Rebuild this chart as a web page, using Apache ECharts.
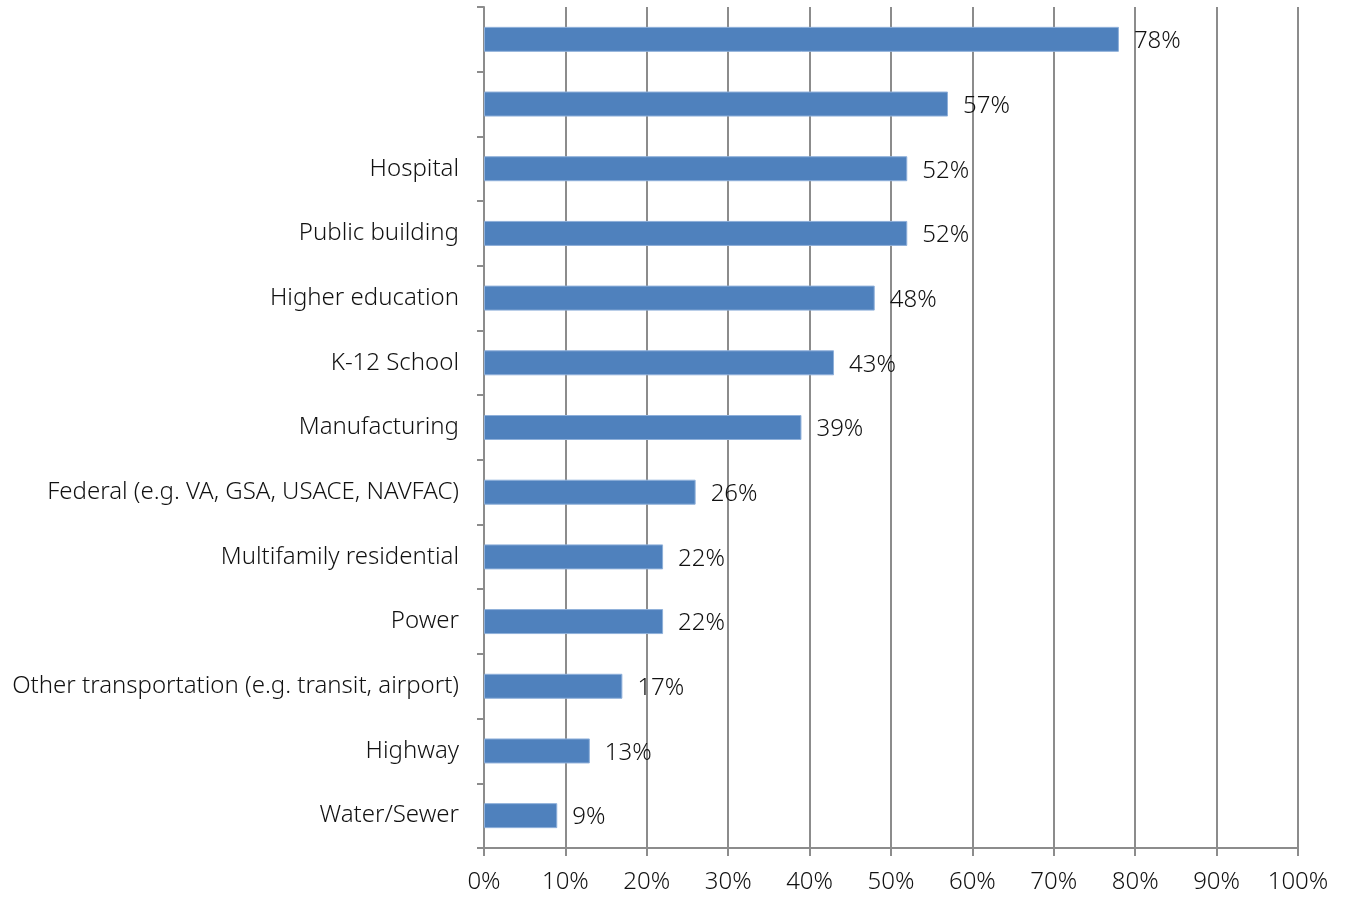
<!DOCTYPE html>
<html>
<head>
<meta charset="utf-8">
<script src="https://cdn.jsdelivr.net/npm/echarts@6/dist/echarts.min.js"></script>
<style>html,body{margin:0;padding:0;background:#fff}#c{width:1346px;height:899px}</style>
</head>
<body>
<div id="c"></div>
<script>
var categories = ["", " ", "Hospital", "Public building", "Higher education", "K-12 School", "Manufacturing", "Federal (e.g. VA, GSA, USACE, NAVFAC)", "Multifamily residential", "Power", "Other transportation (e.g. transit, airport)", "Highway", "Water/Sewer"];
var values = [78, 57, 52, 52, 48, 43, 39, 26, 22, 22, 17, 13, 9];
var xTicks = [0, 10, 20, 30, 40, 50, 60, 70, 80, 90, 100];

var chart = echarts.init(document.getElementById('c'));
var font = '"Noto Sans", "Open Sans", sans-serif';
var axisColor = '#8c8c8c';
var textColor = '#111';
chart.setOption({
  animation: false,
  grid: { left: 484, right: 48, top: 7, bottom: 51, containLabel: false },
  xAxis: {
    type: 'value', min: 0, max: 100, interval: 10,
    axisLine: { show: true, lineStyle: { color: axisColor, width: 2 } },
    axisTick: { show: true, length: 8, lineStyle: { color: axisColor, width: 2 } },
    splitLine: { show: true, lineStyle: { color: axisColor, width: 2 } },
    axisLabel: { margin: 22, color: textColor, fontSize: 24, fontWeight: 300, fontFamily: font, formatter: function (v) { return v + '%'; } }
  },
  yAxis: {
    type: 'category', data: categories, inverse: true,
    axisLine: { show: true, lineStyle: { color: axisColor, width: 2 } },
    axisTick: { show: true, length: 7, inside: false, lineStyle: { color: axisColor, width: 2 } },
    axisLabel: { margin: 25, color: textColor, fontSize: 24, fontWeight: 300, fontFamily: font }
  },
  series: [{
    type: 'bar', data: values, barWidth: 25,
    itemStyle: { color: '#4F81BD', borderColor: '#8FB0DA', borderWidth: 1 },
    label: { show: true, position: 'right', distance: 15, offset: [0, 2], color: textColor, fontSize: 24, fontWeight: 300, fontFamily: font, formatter: function (p) { return p.value + '%'; } }
  }]
});
</script>
</body>
</html>
